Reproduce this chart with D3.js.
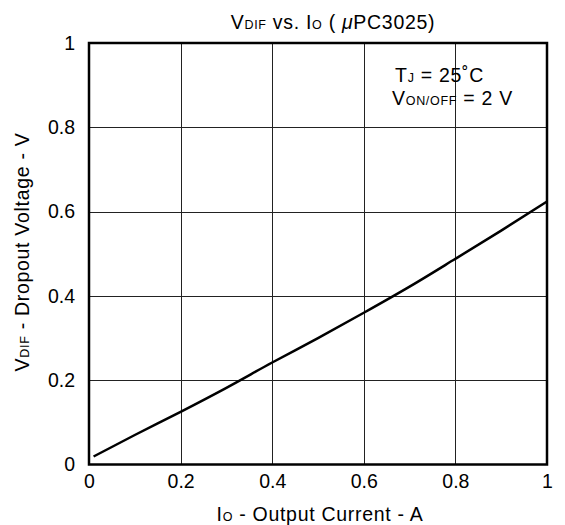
<!DOCTYPE html>
<html><head><meta charset="utf-8">
<script src="https://cdn.jsdelivr.net/npm/d3@7"></script>
<style>
body{margin:0;background:#fff;}
text{font-family:"Liberation Sans",Arial,sans-serif;fill:#000;}
</style></head>
<body><svg id="c" width="565" height="525"></svg>
<script>
const current = [0.01, 0.1, 0.2, 0.3, 0.4, 0.5, 0.6, 0.7, 0.8, 0.9, 1.0];
const vdif = [0.019, 0.070, 0.125, 0.182, 0.242, 0.300, 0.360, 0.422, 0.488, 0.555, 0.624];
const xTicks = [0, 0.2, 0.4, 0.6, 0.8, 1];
const yTicks = [0, 0.2, 0.4, 0.6, 0.8, 1];

const svg = d3.select("#c");
const L = 89, R = 547, T = 43, B = 464.5;
const x = d3.scaleLinear().domain([0, 1]).range([L, R]);
const y = d3.scaleLinear().domain([0, 1]).range([B, T]);
const fmt = d => d === 0 ? "0" : d === 1 ? "1" : String(d);
const FS = 19.5, SUB = 12.5, LS = 0.7;

// grid
svg.append("g").selectAll("line").data(xTicks.slice(1, -1)).join("line")
  .attr("x1", d => Math.round(x(d)) + 0.5).attr("x2", d => Math.round(x(d)) + 0.5)
  .attr("y1", T).attr("y2", B).attr("stroke", "#222").attr("stroke-width", 1);
svg.append("g").selectAll("line").data(yTicks.slice(1, -1)).join("line")
  .attr("y1", d => Math.round(y(d)) + 0.5).attr("y2", d => Math.round(y(d)) + 0.5)
  .attr("x1", L).attr("x2", R).attr("stroke", "#222").attr("stroke-width", 1);

// axes tick labels via d3 axes
const xAxis = svg.append("g").attr("transform", `translate(0,${B})`)
  .call(d3.axisBottom(x).tickValues(xTicks).tickFormat(fmt).tickSize(0).tickPadding(10));
const yAxis = svg.append("g").attr("transform", `translate(${L},0)`)
  .call(d3.axisLeft(y).tickValues(yTicks).tickFormat(fmt).tickSize(0).tickPadding(14));
[xAxis, yAxis].forEach(a => {
  a.select(".domain").remove();
  a.selectAll("text").attr("font-size", FS).attr("fill", "#000")
    .style("font-family", '"Liberation Sans",Arial,sans-serif');
});

// curve
svg.append("path").datum(current.map((c, i) => [c, vdif[i]]))
  .attr("fill", "none").attr("stroke", "#000").attr("stroke-width", 2.5)
  .attr("d", d3.line().x(d => x(d[0])).y(d => y(d[1])).curve(d3.curveMonotoneX));

// frame
svg.append("rect").attr("x", L).attr("y", T).attr("width", R - L).attr("height", B - T)
  .attr("fill", "none").attr("stroke", "#000").attr("stroke-width", 2.5);

// title
const title = svg.append("text").attr("x", 333).attr("y", 29).attr("text-anchor", "middle")
  .attr("font-size", FS).attr("letter-spacing", LS);
title.append("tspan").text("V");
title.append("tspan").attr("font-size", SUB).text("DIF");
title.append("tspan").text(" vs. I");
title.append("tspan").attr("font-size", SUB).text("O");
title.append("tspan").text(" ( ");
title.append("tspan").attr("font-style", "italic").text("μ");
title.append("tspan").text("PC3025)");

// annotation
const a1 = svg.append("text").attr("x", 395).attr("y", 82).attr("font-size", FS).attr("letter-spacing", LS);
a1.append("tspan").text("T");
a1.append("tspan").attr("font-size", SUB).text("J");
a1.append("tspan").text(" = 25˚C");
const a2 = svg.append("text").attr("x", 392).attr("y", 105).attr("font-size", FS).attr("letter-spacing", LS);
a2.append("tspan").text("V");
a2.append("tspan").attr("font-size", SUB).text("ON/OFF");
a2.append("tspan").text(" = 2 V");

// x label
const xl = svg.append("text").attr("x", 320).attr("y", 521).attr("text-anchor", "middle")
  .attr("font-size", FS).attr("letter-spacing", LS);
xl.append("tspan").text("I");
xl.append("tspan").attr("font-size", SUB).text("O");
xl.append("tspan").text(" - Output Current - A");

// y label
const yl = svg.append("text").attr("transform", "translate(29,252) rotate(-90)").attr("text-anchor", "middle")
  .attr("font-size", FS).attr("letter-spacing", LS);
yl.append("tspan").text("V");
yl.append("tspan").attr("font-size", SUB).text("DIF");
yl.append("tspan").text(" - Dropout Voltage - V");
</script></body></html>
